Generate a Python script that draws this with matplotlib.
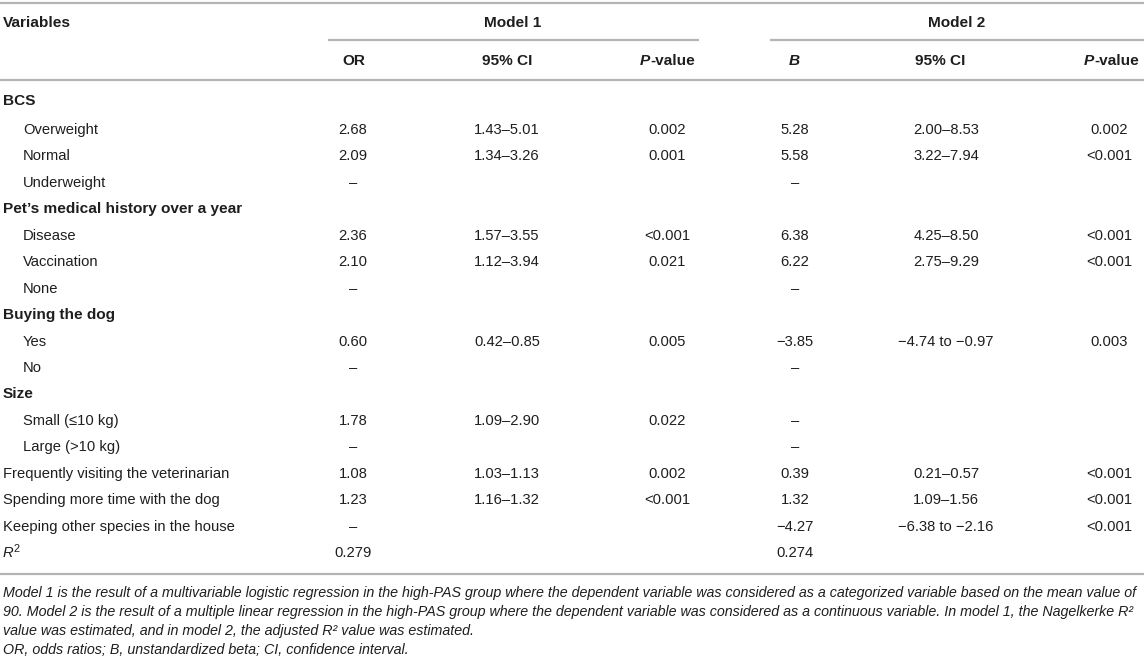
import matplotlib
matplotlib.use("Agg")
import matplotlib.pyplot as plt

plt.rcParams["font.family"] = ["Liberation Sans", "DejaVu Sans"]

# ── Table content ─────────────────────────────────────────────────────────────
labels = ["BCS", "Overweight", "Normal", "Underweight",
          "Pet’s medical history over a year", "Disease", "Vaccination", "None",
          "Buying the dog", "Yes", "No",
          "Size", "Small (≤10 kg)", "Large (>10 kg)",
          "Frequently visiting the veterinarian",
          "Spending more time with the dog",
          "Keeping other species in the house", "R"]
# 0 = bold group heading, 1 = indented level, 2 = plain variable, 3 = R²
levels = [0, 1, 1, 1, 0, 1, 1, 1, 0, 1, 1, 0, 1, 1, 2, 2, 2, 3]

or_vals = ["", "2.68", "2.09", "–", "", "2.36", "2.10", "–", "", "0.60", "–",
           "", "1.78", "–", "1.08", "1.23", "–", "0.279"]
ci1_vals = ["", "1.43–5.01", "1.34–3.26", "", "", "1.57–3.55", "1.12–3.94", "",
            "", "0.42–0.85", "", "", "1.09–2.90", "", "1.03–1.13", "1.16–1.32",
            "", ""]
p1_vals = ["", "0.002", "0.001", "", "", "<0.001", "0.021", "", "", "0.005", "",
           "", "0.022", "", "0.002", "<0.001", "", ""]
b_vals = ["", "5.28", "5.58", "–", "", "6.38", "6.22", "–", "", "−3.85", "–",
          "", "–", "–", "0.39", "1.32", "−4.27", "0.274"]
ci2_vals = ["", "2.00–8.53", "3.22–7.94", "", "", "4.25–8.50", "2.75–9.29", "",
            "", "−4.74 to −0.97", "", "", "", "", "0.21–0.57", "1.09–1.56",
            "−6.38 to −2.16", ""]
p2_vals = ["", "0.002", "<0.001", "", "", "<0.001", "<0.001", "", "", "0.003",
           "", "", "", "", "<0.001", "<0.001", "<0.001", ""]

footnote = [
    "Model 1 is the result of a multivariable logistic regression in the high-PAS group where the dependent variable was considered as a categorized variable based on the mean value of",
    "90. Model 2 is the result of a multiple linear regression in the high-PAS group where the dependent variable was considered as a continuous variable. In model 1, the Nagelkerke R²",
    "value was estimated, and in model 2, the adjusted R² value was estimated.",
    "OR, odds ratios; B, unstandardized beta; CI, confidence interval.",
]

# ── Layout ────────────────────────────────────────────────────────────────────
W, H = 1144, 661
TXT = "#1e1e1e"
LINE = "#b4b4b4"
FS = 10.6
FS_B = 11.1
FOOT_FS = 10.3

fig = plt.figure(figsize=(W / 100, H / 100), dpi=100)
ax = fig.add_axes([0, 0, 1, 1])
ax.set_xlim(0, W)
ax.set_ylim(H, 0)
ax.axis("off")
renderer = fig.canvas.get_renderer()


def runs(x, y, parts, ha="left"):
    """Draw a sequence of (text, kwargs) pieces side by side."""
    arts = []
    for s, kw in parts:
        kw = dict(kw)
        dy = kw.pop("dy", 0)
        t = ax.text(0, y + dy, s, va="center", ha="left", color=TXT, **kw)
        arts.append(t)
    widths = [a.get_window_extent(renderer).width for a in arts]
    total = sum(widths)
    if ha == "center":
        x0 = x - total / 2
    elif ha == "right":
        x0 = x - total
    else:
        x0 = x
    for a, w in zip(arts, widths):
        a.set_x(x0)
        x0 += w
    return total


def hline(y, x0, x1):
    ax.plot([x0, x1], [y, y], color=LINE, lw=1.6, solid_capstyle="butt")


B = dict(fontsize=FS_B, fontweight="bold")
BI = dict(fontsize=FS_B, fontweight="bold", fontstyle="italic")
N = dict(fontsize=FS)

# rules
hline(3, 0, W)
hline(40, 328, 699)
hline(40, 770, W)
hline(80, 0, W)
hline(574, 0, W)

# header
ax.text(3, 23, "Variables", va="center", color=TXT, **B)
ax.text(513, 23, "Model 1", va="center", ha="center", color=TXT, **B)
ax.text(957, 23, "Model 2", va="center", ha="center", color=TXT, **B)
ax.text(354, 61, "OR", va="center", ha="center", color=TXT, **B)
ax.text(507, 61, "95% CI", va="center", ha="center", color=TXT, **B)
runs(695, 61, [("P", BI), ("-value", B)], ha="right")
runs(794, 61, [("B", BI)], ha="center")
ax.text(940, 61, "95% CI", va="center", ha="center", color=TXT, **B)
runs(1139, 61, [("P", BI), ("-value", B)], ha="right")

# body rows
cols = [(353, or_vals), (507, ci1_vals), (667, p1_vals),
        (795, b_vals), (946, ci2_vals), (1109, p2_vals)]
for i, lab in enumerate(labels):
    y = 101 if i == 0 else 130 + (i - 1) * 26.44
    lv = levels[i]
    if lv == 0:
        ax.text(3, y, lab, va="center", color=TXT, **B)
    elif lv == 1:
        ax.text(23, y, lab, va="center", color=TXT, **N)
    elif lv == 2:
        ax.text(3, y, lab, va="center", color=TXT, **N)
    else:
        runs(3, y, [(lab, dict(fontsize=FS, fontstyle="italic")),
                    ("2", dict(fontsize=FS * 0.75, dy=-4))])
    for cx, vals in cols:
        if vals[i]:
            ax.text(cx, y, vals[i], va="center", ha="center", color=TXT, **N)

# footnote
foot_y = [593, 612, 631, 650]
for y, line in zip(foot_y, footnote):
    ax.text(3, y, line, va="center", ha="left", color=TXT,
            fontsize=FOOT_FS, fontstyle="italic")

fig.savefig("out.png", dpi=100)
